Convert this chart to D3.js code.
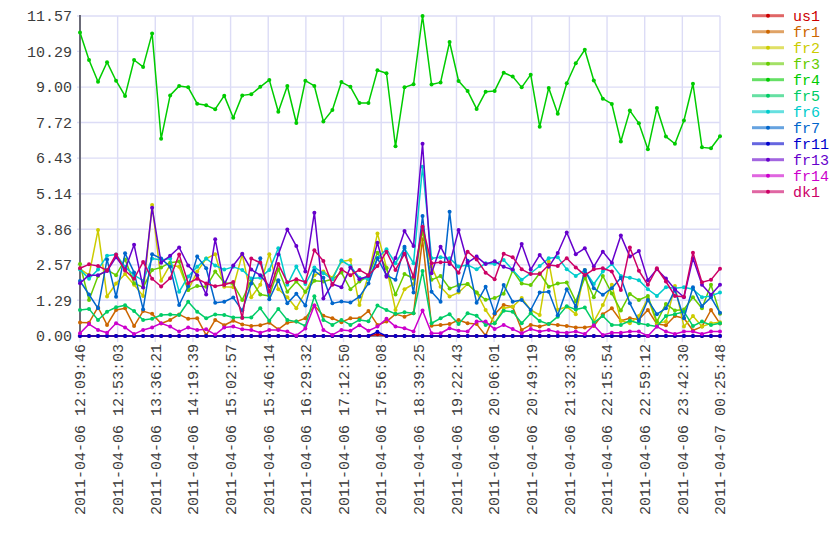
<!DOCTYPE html>
<html><head><meta charset="utf-8">
<script src="https://cdn.jsdelivr.net/npm/d3@7/dist/d3.min.js"></script>
<style>
body{margin:0;background:#fff}
svg text{font-family:"Liberation Mono","DejaVu Sans Mono",monospace;}
</style>
</head><body>
<svg id="c" width="840" height="560"></svg>
<script>
// ---------- data ----------
const seriesNames = ["us1","fr1","fr2","fr3","fr4","fr5","fr6","fr7","fr11","fr13","fr14","dk1"];
const xTickLabels = ["2011-04-06 12:09:46","2011-04-06 12:53:03","2011-04-06 13:36:21","2011-04-06 14:19:39",
  "2011-04-06 15:02:57","2011-04-06 15:46:14","2011-04-06 16:29:32","2011-04-06 17:12:50","2011-04-06 17:56:08",
  "2011-04-06 18:39:25","2011-04-06 19:22:43","2011-04-06 20:06:01","2011-04-06 20:49:19","2011-04-06 21:32:36",
  "2011-04-06 22:15:54","2011-04-06 22:59:12","2011-04-06 23:42:30","2011-04-07 00:25:48"];
const yTickLabels = ["0.00","1.29","2.57","3.86","5.14","6.43","7.72","9.00","10.29","11.57"];
const startTime = "2011-04-06 12:09:46";
const endTime = "2011-04-07 00:25:48";
const pointCount = 72;

const us1 = [0,0,0,0,0,0,0,0,0,0,0,0, 0,0,0,0,0,0,0,0,0,0,0,0, 0,0,0,0,0,0,0,0,0,0.06,0,0,
  0,0,0,0,0,0,0,0,0,0,0,0, 0,0,0,0,0,0,0,0,0,0,0,0, 0,0,0,0,0,0,0,0,0,0,0,0];
const fr1 = [0.49,0.48,1.04,0.4,0.94,1.0,0.36,0.9,0.8,0.45,
  0.58,0.78,0.62,0.64,0.03,0.58,0.39,0.55,0.42,0.36,
  0.39,0.48,0.24,0.48,0.52,0.64,1.1,0.73,0.64,0.5,
  0.64,0.64,0.9,0.4,0.52,0.79,0.7,0.82,3.5,0.37,
  0.4,0.43,0.58,0.46,0.43,0.02,0.79,1.12,1.06,0.22,
  0.4,0.34,0.43,0.4,0.36,0.31,0.31,0.36,0.79,1.0,
  0.55,0.64,0.6,0.94,0.43,0.39,0.72,0.64,0.2,0.34,
  0.94,0.45];
const fr2 = [2.43,2.2,3.83,1.43,1.9,2.24,1.85,1.45,4.74,2.0,
  2.57,2.5,1.66,2.33,2.8,2.96,1.78,1.76,2.95,1.4,
  1.85,2.96,1.69,1.4,1.0,1.6,2.2,2.33,2.11,2.69,
  2.75,1.12,2.2,3.71,2.48,0.94,1.69,1.88,3.77,2.51,
  1.78,1.43,1.57,1.88,1.57,0.94,0.46,1.0,1.06,1.37,
  0.94,0.76,2.69,0.95,1.06,0.79,2.39,0.52,1.12,1.85,
  0.55,0.46,0.72,1.36,0.46,0.52,1.81,0.34,0.72,0.34,
  0.46,0.5];
const fr3 = [2.6,1.3,2.17,2.39,2.2,2.77,1.91,1.76,2.39,2.48,
  2.65,2.69,1.66,1.81,1.78,2.33,1.93,1.88,1.3,2.02,
  1.5,1.45,2.41,1.6,1.97,1.6,2.0,1.97,2.05,2.3,
  1.69,1.97,2.17,3.01,2.45,1.5,2.24,2.08,3.83,2.03,
  2.17,1.72,1.84,1.88,1.57,1.31,1.37,1.53,2.37,1.9,
  1.84,2.27,1.78,1.9,1.93,1.25,2.11,1.4,2.17,1.54,
  0.92,1.52,1.3,1.45,0.52,1.16,0.92,0.96,1.40,1.0,
  1.85,0.8];
const fr4 = [10.97,9.98,9.19,9.90,9.23,8.68,9.98,9.73,10.94,7.13,
  8.70,9.04,8.99,8.40,8.34,8.20,8.69,7.89,8.70,8.74,
  9.01,9.26,8.11,9.04,7.70,9.23,9.04,7.76,8.17,9.18,
  9.01,8.42,8.42,9.61,9.50,6.86,8.99,9.10,11.57,9.09,
  9.17,10.63,9.22,8.86,8.21,8.83,8.86,9.52,9.38,8.99,
  9.45,7.57,8.97,8.04,9.14,9.86,10.35,9.24,8.58,8.39,
  7.03,8.15,7.69,6.75,8.24,7.21,6.95,7.79,9.12,6.82,
  6.79,7.22];
const fr5 = [0.94,0.98,0.58,0.88,1.04,1.11,0.9,0.58,0.62,0.76,
  0.78,0.76,1.24,0.88,0.64,0.78,0.76,0.67,0.67,0.67,
  1.0,0.55,0.98,0.58,0.52,0.36,1.44,0.58,0.4,0.58,
  0.4,0.58,0.53,1.1,0.94,0.8,0.86,0.82,2.35,0.46,
  0.64,0.79,0.43,0.82,0.73,0.4,0.46,0.91,0.88,0.46,
  0.82,0.54,0.43,0.7,1.08,0.96,1.03,0.48,0.72,0.4,
  0.4,0.55,0.46,0.4,0.34,0.72,0.79,0.88,0.36,0.52,
  0.4,0.46];
const fr6 = [2.4,2.07,2.4,2.9,2.95,2.5,2.2,2.0,2.8,2.75,
  2.8,1.6,2.15,2.5,2.8,2.55,2.4,2.5,2.39,2.08,
  2.11,2.39,3.17,1.85,2.51,1.88,2.48,2.27,2.05,2.73,
  2.53,2.11,2.05,2.81,3.14,2.63,3.17,2.63,6.12,2.81,
  2.85,2.81,2.51,2.57,2.41,2.63,2.6,2.75,2.39,2.03,
  2.27,2.53,2.81,2.85,2.41,2.17,2.37,1.88,2.33,2.6,
  2.17,2.11,2.02,1.69,1.45,1.76,1.73,1.76,1.69,1.40,
  1.45,1.57];
const fr7 = [1.99,1.5,1.0,2.77,1.42,2.99,2.3,0.97,2.96,2.8,
  2.5,1.12,1.8,2.87,2.45,1.2,1.24,1.39,0.92,1.9,
  2.81,1.33,2.02,1.18,1.53,1.1,2.36,2.11,1.18,1.25,
  1.21,1.42,1.9,2.81,2.2,2.03,3.23,1.57,4.34,1.6,
  1.24,4.49,1.64,2.72,1.2,1.78,0.82,1.84,1.24,1.3,
  0.94,1.57,1.6,0.75,1.69,1.06,2.39,1.73,1.49,1.73,
  2.11,1.18,0.55,1.30,0.79,1.0,1.66,0.64,1.76,1.08,
  1.40,0.84];
const fr11 = [0,0,0,0,0,0,0,0,0,0,0,0, 0,0,0,0,0,0,0,0,0,0,0,0, 0,0,0,0,0,0,0,0,0,0.15,0,0,
  0,0,0,0,0,0,0,0,0,0,0,0, 0,0,0,0,0,0,0,0,0,0,0,0, 0,0,0,0,0,0,0,0,0,0,0,0];
const fr13 = [1.91,2.2,2.2,2.35,2.85,2.4,3.3,1.75,4.64,2.65,
  2.9,3.2,2.55,2.2,1.5,3.5,1.85,2.55,2.97,2.4,
  2.2,1.8,2.95,3.85,3.25,2.33,4.46,1.36,1.88,1.76,
  2.48,2.05,2.17,3.37,2.14,2.82,3.8,3.25,6.95,2.27,
  3.23,2.6,3.83,2.65,2.87,2.6,2.7,2.5,2.4,3.33,
  2.4,2.93,2.5,3.0,3.74,2.96,3.17,2.51,3.05,2.65,
  3.63,2.87,3.07,2.02,2.41,2.08,1.69,1.40,2.81,1.85,
  1.49,1.85];
const fr14 = [0.1,0.43,0.22,0.12,0.46,0.31,0.07,0.22,0.31,0.46,
  0.34,0.16,0.31,0.22,0.24,0.05,0.31,0.34,0.24,0.22,
  0.12,0.22,0.22,0.16,0.02,0.27,1.1,0.22,0.04,0.22,
  0.19,0.39,0.19,0.34,0.62,0.34,0.28,0.16,0.92,0.1,
  0.1,0.28,0.19,0.16,0.52,0.52,0.25,0.4,0.25,0.1,
  0.25,0.16,0.22,0.14,0.12,0.16,0.07,0.39,0.04,0.12,
  0.12,0.16,0.16,0.0,0.34,0.16,0.07,0.16,0.16,0.07,
  0.16,0.16];
const dk1 = [2.45,2.59,2.53,2.37,2.95,2.37,2.07,2.68,2.07,1.79,
  2.09,2.95,1.91,2.07,1.9,1.8,1.85,1.95,0.65,2.8,
  2.65,1.6,2.6,1.94,2.05,1.95,3.1,2.71,1.85,2.41,
  2.2,2.39,2.2,2.53,3.05,2.39,2.97,2.14,3.95,2.63,
  2.67,2.67,2.29,3.05,2.77,2.29,2.05,2.97,2.85,2.41,
  2.24,2.24,2.57,2.53,2.81,2.48,2.2,2.41,2.45,2.33,
  1.66,3.2,2.36,1.85,2.45,1.97,1.45,1.42,3.01,1.94,
  2.03,2.43];

const seriesValues = [us1,fr1,fr2,fr3,fr4,fr5,fr6,fr7,fr11,fr13,fr14,dk1];

// ---------- styles ----------
const colors = ["#cc0000","#cc6600","#cccc00","#66cc00","#00cc00","#00cc66","#00cccc","#0066cc","#0000cc","#6600cc","#cc00cc","#cc0066"];
const L = 80, R = 720, T = 16, B = 336;

// ---------- chart ----------
const svg = d3.select("#c");
const parse = d3.timeParse("%Y-%m-%d %H:%M:%S");
const t0 = parse(startTime), t1 = parse(endTime);
const times = d3.range(pointCount).map(i => new Date(+t0 + (t1 - t0) * i / (pointCount - 1)));
const xTicks = xTickLabels.map(parse);
const yTicks = yTickLabels.map(Number);

const x = d3.scaleTime().domain([t0, t1]).range([L, R]);
const y = d3.scaleLinear().domain([0, yTicks[yTicks.length - 1]]).range([B, T]);

// grid
const grid = svg.append("g").attr("stroke", "#dcdcf6").attr("stroke-width", 1.4);
grid.selectAll("line.h").data(yTicks).join("line")
  .attr("x1", L - 3).attr("x2", R).attr("y1", d => y(d)).attr("y2", d => y(d));
grid.selectAll("line.v").data(xTicks).join("line")
  .attr("x1", d => x(d)).attr("x2", d => x(d)).attr("y1", T).attr("y2", B + 6);

// y axis
const yAxis = svg.append("g").attr("transform", `translate(${L},0)`)
  .call(d3.axisLeft(y).tickValues(yTicks).tickFormat((d, i) => yTickLabels[i]).tickSize(0).tickPadding(8));
yAxis.select(".domain").remove();
yAxis.selectAll("text").attr("font-size", 15).attr("fill", "#3c3c3c")
  .attr("font-family", "Liberation Mono, monospace");

// x axis
const xAxis = svg.append("g").attr("transform", `translate(0,${B})`)
  .call(d3.axisBottom(x).tickValues(xTicks).tickFormat((d, i) => xTickLabels[i]).tickSize(0));
xAxis.select(".domain").remove();
xAxis.selectAll("text").attr("font-size", 15).attr("fill", "#3c3c3c")
  .attr("font-family", "Liberation Mono, monospace")
  .attr("transform", "rotate(-90)").attr("text-anchor", "end")
  .attr("x", -8).attr("y", 0).attr("dy", "0.32em");

// axis lines
svg.append("line").attr("x1", L).attr("x2", L).attr("y1", T - 1).attr("y2", B + 1)
  .attr("stroke", "#6b6b78").attr("stroke-width", 2);
svg.append("line").attr("x1", L).attr("x2", R).attr("y1", B).attr("y2", B)
  .attr("stroke", "#6b6b78").attr("stroke-width", 1.5);

// series
const line = d3.line().x((d, i) => x(times[i])).y(d => y(d));
seriesValues.forEach((vals, k) => {
  const g = svg.append("g");
  g.append("path").datum(vals).attr("d", line).attr("fill", "none")
    .attr("stroke", colors[k]).attr("stroke-width", 1.5).attr("stroke-linejoin", "round");
  g.selectAll("circle").data(vals).join("circle")
    .attr("cx", (d, i) => x(times[i])).attr("cy", d => y(d)).attr("r", 2)
    .attr("fill", colors[k]);
});

// legend
const lg = svg.append("g");
seriesNames.forEach((name, k) => {
  const yy = 15.7 + k * 16;
  lg.append("line").attr("x1", 752).attr("x2", 784).attr("y1", yy).attr("y2", yy)
    .attr("stroke", colors[k]).attr("stroke-width", 3).attr("stroke-opacity", 0.6);
  lg.append("circle").attr("cx", 768).attr("cy", yy).attr("r", 2).attr("fill", colors[k]);
  lg.append("text").attr("x", 793).attr("y", yy).attr("dy", "0.35em")
    .attr("font-size", 15).attr("fill", colors[k]).text(name);
});
</script>
</body></html>
